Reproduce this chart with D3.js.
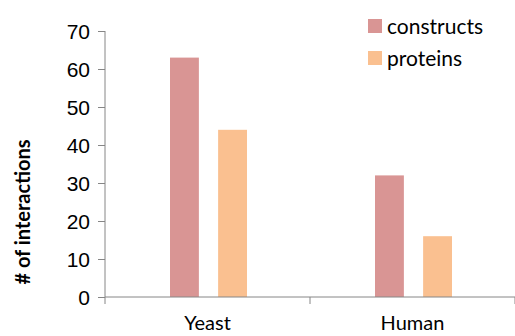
<!DOCTYPE html>
<html>
<head>
<meta charset="utf-8">
<script src="https://cdn.jsdelivr.net/npm/d3@7"></script>
<style>
  body { margin: 0; background: #fff; }
  svg { display: block; font-family: Lato, "Open Sans", sans-serif; }
</style>
</head>
<body>
<svg id="chart" width="515" height="336"></svg>
<script>
// data
const categories = ["Yeast", "Human"];
const seriesNames = ["constructs", "proteins"];
const constructs = [63, 32];
const proteins = [44, 16];
const yTicks = [0, 10, 20, 30, 40, 50, 60, 70];
const colors = ["#d99594", "#fac090"];

let svg = d3.select("#chart");
let plotLeft = 105, plotRight = 515, plotTop = 31, plotBottom = 297;

let x = d3.scaleBand().domain(categories).range([plotLeft, plotRight]);
let xInner = d3.scaleBand().domain(seriesNames).range([-37.5, 39.5]).paddingInner(0.4);
let y = d3.scaleLinear().domain([0, 70]).range([plotBottom, plotTop]);

let rows = categories.map((c, i) => ({cat: c, values: [constructs[i], proteins[i]]}));

// bars
let groups = svg.selectAll("g.cat")
  .data(rows)
  .enter().append("g")
  .attr("class", "cat")
  .attr("transform", d => "translate(" + (x(d.cat) + x.bandwidth() / 2) + ",0)");

groups.selectAll("rect")
  .data(d => d.values.map((v, j) => ({name: seriesNames[j], v: v, j: j})))
  .enter().append("rect")
  .attr("x", d => xInner(d.name))
  .attr("width", xInner.bandwidth())
  .attr("y", d => y(d.v))
  .attr("height", d => y(0) - y(d.v))
  .attr("fill", d => colors[d.j]);

// y axis
let yAxis = d3.axisLeft(y).tickValues(yTicks).tickSize(7).tickPadding(8);
let gy = svg.append("g").attr("transform", "translate(" + plotLeft + ",0)").call(yAxis);
gy.select(".domain").attr("stroke", "#868686").attr("d", "M0," + plotTop + "V" + plotBottom);
gy.selectAll(".tick line").attr("stroke", "#868686");
gy.selectAll(".tick text").attr("fill", "#000").style("font-size", "21px").attr("dy", "0.36em");

// x axis: ticks at band boundaries, labels centered
let gx = svg.append("g").attr("transform", "translate(0," + plotBottom + ")");
gx.append("line").attr("x1", plotLeft).attr("x2", plotRight).attr("stroke", "#868686");
let bounds = categories.map(c => x(c)).concat([x.range()[1]]);
gx.selectAll("line.tk").data(bounds).enter().append("line")
  .attr("class", "tk")
  .attr("x1", d => d).attr("x2", d => d)
  .attr("y1", 0).attr("y2", 7)
  .attr("stroke", "#868686");
gx.selectAll("text").data(categories).enter().append("text")
  .attr("x", d => x(d) + x.bandwidth() / 2)
  .attr("y", 33)
  .attr("text-anchor", "middle")
  .style("font-size", "20px")
  .text(d => d);

// y label
svg.append("text")
  .attr("transform", "translate(30,212) rotate(-90)")
  .attr("text-anchor", "middle")
  .style("font-size", "20px")
  .style("font-weight", "bold")
  .text("# of interactions");

// legend
let lg = svg.selectAll("g.legend")
  .data(seriesNames)
  .enter().append("g")
  .attr("class", "legend")
  .attr("transform", (d, i) => "translate(368," + (19 + i * 32) + ")");
lg.append("rect").attr("width", 14).attr("height", 14).attr("fill", (d, i) => colors[i]);
lg.append("text").attr("x", 19).attr("y", 7).attr("dy", "0.36em")
  .style("font-size", "21px")
  .text(d => d);
</script>
</body>
</html>
